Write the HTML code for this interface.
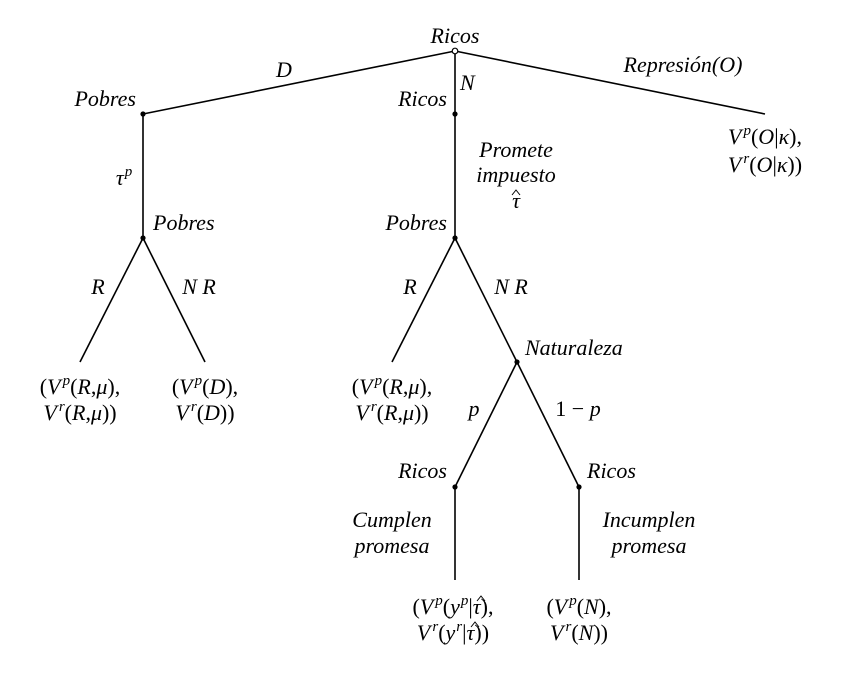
<!DOCTYPE html>
<html><head><meta charset="utf-8"><style>
html,body{margin:0;padding:0;background:#fff}
svg text{font-family:"Liberation Serif",serif;font-size:22px;fill:#000}
.i{font-style:italic}
.s{font-size:15px;font-style:italic}
</style></head><body>
<svg width="841" height="672" viewBox="0 0 841 672" xmlns="http://www.w3.org/2000/svg">
<g stroke="#000" stroke-width="1.6" fill="none">
<line x1="455" y1="51" x2="143" y2="114"/>
<line x1="455" y1="51" x2="455" y2="114"/>
<line x1="455" y1="51" x2="765" y2="114"/>
<line x1="143" y1="114" x2="143" y2="238"/>
<line x1="143" y1="238" x2="80" y2="362"/>
<line x1="143" y1="238" x2="205" y2="362"/>
<line x1="455" y1="114" x2="455" y2="238"/>
<line x1="455" y1="238" x2="392" y2="362"/>
<line x1="455" y1="238" x2="517" y2="362"/>
<line x1="517" y1="362" x2="455" y2="487"/>
<line x1="517" y1="362" x2="579" y2="487"/>
<line x1="455" y1="487" x2="455" y2="580"/>
<line x1="579" y1="487" x2="579" y2="580"/>
</g>
<g fill="#000">
<circle cx="143" cy="114" r="2.6"/><circle cx="455" cy="114" r="2.6"/>
<circle cx="143" cy="238" r="2.6"/><circle cx="455" cy="238" r="2.6"/>
<circle cx="517" cy="362" r="2.6"/><circle cx="455" cy="487" r="2.6"/>
<circle cx="579" cy="487" r="2.6"/>
</g>
<circle cx="455" cy="51" r="2.8" fill="#fff" stroke="#000" stroke-width="1.2"/>
<text class="i" x="455" y="43" text-anchor="middle">Ricos</text>
<text class="i" x="284" y="77" text-anchor="middle">D</text>
<text class="i" x="460" y="90">N</text>
<text class="i" x="683" y="72" text-anchor="middle">Represión(O)</text>
<text class="i" x="136" y="106" text-anchor="end">Pobres</text>
<text class="i" x="447" y="106" text-anchor="end">Ricos</text>
<text x="765" y="144" text-anchor="middle"><tspan class="i">V</tspan><tspan class="s" dx="2" dy="-9">p</tspan><tspan dy="9">(</tspan><tspan class="i">O</tspan>|<tspan class="i">κ</tspan>),</text>
<text x="765" y="172" text-anchor="middle"><tspan class="i">V</tspan><tspan class="s" dx="2" dy="-9">r</tspan><tspan dy="9">(</tspan><tspan class="i">O</tspan>|<tspan class="i">κ</tspan>))</text>
<text x="124" y="185" text-anchor="middle"><tspan class="i">τ</tspan><tspan class="s" dx="1" dy="-9">p</tspan></text>
<text class="i" x="516" y="157" text-anchor="middle">Promete</text>
<text class="i" x="516" y="182" text-anchor="middle">impuesto</text>
<text class="i" x="516" y="208" text-anchor="middle">τ</text>
<polyline points="512,195 516,190 520,195" fill="none" stroke="#000" stroke-width="1"/>
<text class="i" x="153" y="230">Pobres</text>
<text class="i" x="447" y="230" text-anchor="end">Pobres</text>
<text class="i" x="98" y="294" text-anchor="middle">R</text>
<text class="i" x="199" y="294" text-anchor="middle">N R</text>
<text class="i" x="410" y="294" text-anchor="middle">R</text>
<text class="i" x="511" y="294" text-anchor="middle">N R</text>
<text class="i" x="525" y="355">Naturaleza</text>
<text x="80" y="394" text-anchor="middle">(<tspan class="i">V</tspan><tspan class="s" dx="2" dy="-9">p</tspan><tspan dy="9">(</tspan><tspan class="i">R</tspan>,<tspan class="i">μ</tspan>),</text>
<text x="80" y="420" text-anchor="middle"><tspan class="i">V</tspan><tspan class="s" dx="2" dy="-9">r</tspan><tspan dy="9">(</tspan><tspan class="i">R</tspan>,<tspan class="i">μ</tspan>))</text>
<text x="205" y="394" text-anchor="middle">(<tspan class="i">V</tspan><tspan class="s" dx="2" dy="-9">p</tspan><tspan dy="9">(</tspan><tspan class="i">D</tspan>),</text>
<text x="205" y="420" text-anchor="middle"><tspan class="i">V</tspan><tspan class="s" dx="2" dy="-9">r</tspan><tspan dy="9">(</tspan><tspan class="i">D</tspan>))</text>
<text x="392" y="394" text-anchor="middle">(<tspan class="i">V</tspan><tspan class="s" dx="2" dy="-9">p</tspan><tspan dy="9">(</tspan><tspan class="i">R</tspan>,<tspan class="i">μ</tspan>),</text>
<text x="392" y="420" text-anchor="middle"><tspan class="i">V</tspan><tspan class="s" dx="2" dy="-9">r</tspan><tspan dy="9">(</tspan><tspan class="i">R</tspan>,<tspan class="i">μ</tspan>))</text>
<text class="i" x="474" y="416" text-anchor="middle">p</text>
<text x="578" y="416" text-anchor="middle">1 − <tspan class="i">p</tspan></text>
<text class="i" x="447" y="478" text-anchor="end">Ricos</text>
<text class="i" x="587" y="478">Ricos</text>
<text class="i" x="392" y="527" text-anchor="middle">Cumplen</text>
<text class="i" x="392" y="553" text-anchor="middle">promesa</text>
<text class="i" x="649" y="527" text-anchor="middle">Incumplen</text>
<text class="i" x="649" y="553" text-anchor="middle">promesa</text>
<text x="453" y="614" text-anchor="middle">(<tspan class="i">V</tspan><tspan class="s" dx="2" dy="-9">p</tspan><tspan dy="9">(</tspan><tspan class="i">y</tspan><tspan class="s" dx="1" dy="-9">p</tspan><tspan dy="9">|</tspan><tspan class="i">τ</tspan>),</text>
<text x="453" y="640" text-anchor="middle"><tspan class="i">V</tspan><tspan class="s" dx="2" dy="-9">r</tspan><tspan dy="9">(</tspan><tspan class="i">y</tspan><tspan class="s" dx="1" dy="-9">r</tspan><tspan dy="9">|</tspan><tspan class="i">τ</tspan>))</text>
<polyline points="477,601 481,596 485,601" fill="none" stroke="#000" stroke-width="1"/>
<polyline points="471,627 475,622 479,627" fill="none" stroke="#000" stroke-width="1"/>
<text x="579" y="614" text-anchor="middle">(<tspan class="i">V</tspan><tspan class="s" dx="2" dy="-9">p</tspan><tspan dy="9">(</tspan><tspan class="i">N</tspan>),</text>
<text x="579" y="640" text-anchor="middle"><tspan class="i">V</tspan><tspan class="s" dx="2" dy="-9">r</tspan><tspan dy="9">(</tspan><tspan class="i">N</tspan>))</text>
</svg>
</body></html>
